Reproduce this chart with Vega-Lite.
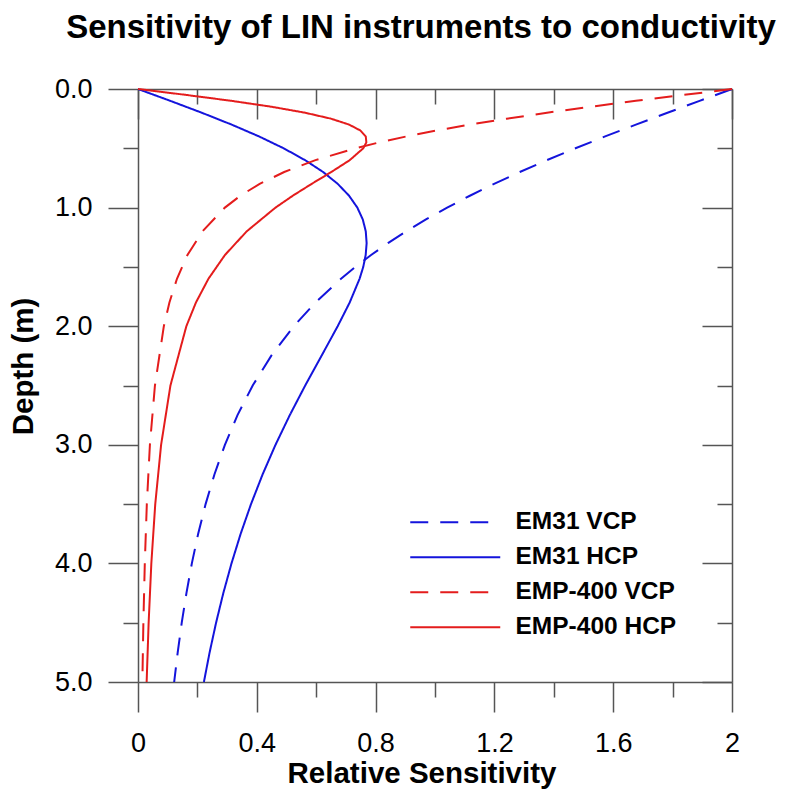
{
  "$schema": "https://vega.github.io/schema/vega-lite/v6.json",
  "width": 594,
  "height": 593,
  "autosize": "none",
  "padding": {"left": 138, "top": 89, "right": 56, "bottom": 110},
  "background": "white",
  "config": {
    "view": {"stroke": null},
    "font": "Liberation Sans",
    "axis": {
      "domainColor": "#555555", "domainWidth": 1.5,
      "tickColor": "#555555", "tickWidth": 1.5,
      "grid": false,
      "labelFont": "Liberation Sans", "labelFontSize": 27, "labelColor": "#000000",
      "labelFlush": false, "labelOverlap": false,
      "titleFont": "Liberation Sans", "titleFontSize": 29.5, "titleFontWeight": "bold", "titleColor": "#000000"
    }
  },
  "title": {
    "text": "Sensitivity of LIN instruments to conductivity",
    "font": "Liberation Sans", "fontSize": 33, "fontWeight": "bold", "color": "#000000",
    "anchor": "middle", "frame": "group", "dx": -14, "offset": 4, "baseline": "alphabetic"
  },
  "data": {
    "values": [
      {"series": "EM31 VCP", "depth": 0, "sensitivity": 2},
      {"series": "EM31 VCP", "depth": 0.1, "sensitivity": 1.8909},
      {"series": "EM31 VCP", "depth": 0.2, "sensitivity": 1.7827},
      {"series": "EM31 VCP", "depth": 0.3, "sensitivity": 1.6764},
      {"series": "EM31 VCP", "depth": 0.4, "sensitivity": 1.5729},
      {"series": "EM31 VCP", "depth": 0.5, "sensitivity": 1.4729},
      {"series": "EM31 VCP", "depth": 0.6, "sensitivity": 1.3769},
      {"series": "EM31 VCP", "depth": 0.7, "sensitivity": 1.2855},
      {"series": "EM31 VCP", "depth": 0.8, "sensitivity": 1.1989},
      {"series": "EM31 VCP", "depth": 0.9, "sensitivity": 1.1174},
      {"series": "EM31 VCP", "depth": 1.0, "sensitivity": 1.0409},
      {"series": "EM31 VCP", "depth": 1.1, "sensitivity": 0.9696},
      {"series": "EM31 VCP", "depth": 1.2, "sensitivity": 0.9033},
      {"series": "EM31 VCP", "depth": 1.3, "sensitivity": 0.8417},
      {"series": "EM31 VCP", "depth": 1.4, "sensitivity": 0.7848},
      {"series": "EM31 VCP", "depth": 1.5, "sensitivity": 0.7321},
      {"series": "EM31 VCP", "depth": 1.6, "sensitivity": 0.6836},
      {"series": "EM31 VCP", "depth": 1.8, "sensitivity": 0.5975},
      {"series": "EM31 VCP", "depth": 2.0, "sensitivity": 0.5245},
      {"series": "EM31 VCP", "depth": 2.25, "sensitivity": 0.4484},
      {"series": "EM31 VCP", "depth": 2.5, "sensitivity": 0.3862},
      {"series": "EM31 VCP", "depth": 2.75, "sensitivity": 0.335},
      {"series": "EM31 VCP", "depth": 3.0, "sensitivity": 0.2926},
      {"series": "EM31 VCP", "depth": 3.25, "sensitivity": 0.2573},
      {"series": "EM31 VCP", "depth": 3.5, "sensitivity": 0.2276},
      {"series": "EM31 VCP", "depth": 3.75, "sensitivity": 0.2026},
      {"series": "EM31 VCP", "depth": 4.0, "sensitivity": 0.1813},
      {"series": "EM31 VCP", "depth": 4.25, "sensitivity": 0.1631},
      {"series": "EM31 VCP", "depth": 4.5, "sensitivity": 0.1473},
      {"series": "EM31 VCP", "depth": 4.75, "sensitivity": 0.1337},
      {"series": "EM31 VCP", "depth": 5.0, "sensitivity": 0.1218},

      {"series": "EM31 HCP", "depth": 0, "sensitivity": 0},
      {"series": "EM31 HCP", "depth": 0.1, "sensitivity": 0.1088},
      {"series": "EM31 HCP", "depth": 0.2, "sensitivity": 0.2147},
      {"series": "EM31 HCP", "depth": 0.3, "sensitivity": 0.3151},
      {"series": "EM31 HCP", "depth": 0.4, "sensitivity": 0.4076},
      {"series": "EM31 HCP", "depth": 0.5, "sensitivity": 0.4905},
      {"series": "EM31 HCP", "depth": 0.6, "sensitivity": 0.5626},
      {"series": "EM31 HCP", "depth": 0.7, "sensitivity": 0.6233},
      {"series": "EM31 HCP", "depth": 0.8, "sensitivity": 0.6726},
      {"series": "EM31 HCP", "depth": 0.9, "sensitivity": 0.7107},
      {"series": "EM31 HCP", "depth": 1.0, "sensitivity": 0.7385},
      {"series": "EM31 HCP", "depth": 1.1, "sensitivity": 0.7569},
      {"series": "EM31 HCP", "depth": 1.2, "sensitivity": 0.7669},
      {"series": "EM31 HCP", "depth": 1.3, "sensitivity": 0.7698},
      {"series": "EM31 HCP", "depth": 1.4, "sensitivity": 0.7666},
      {"series": "EM31 HCP", "depth": 1.5, "sensitivity": 0.7584},
      {"series": "EM31 HCP", "depth": 1.6, "sensitivity": 0.7461},
      {"series": "EM31 HCP", "depth": 1.8, "sensitivity": 0.7128},
      {"series": "EM31 HCP", "depth": 2.0, "sensitivity": 0.6724},
      {"series": "EM31 HCP", "depth": 2.25, "sensitivity": 0.6178},
      {"series": "EM31 HCP", "depth": 2.5, "sensitivity": 0.563},
      {"series": "EM31 HCP", "depth": 2.75, "sensitivity": 0.511},
      {"series": "EM31 HCP", "depth": 3.0, "sensitivity": 0.463},
      {"series": "EM31 HCP", "depth": 3.25, "sensitivity": 0.4195},
      {"series": "EM31 HCP", "depth": 3.5, "sensitivity": 0.3805},
      {"series": "EM31 HCP", "depth": 3.75, "sensitivity": 0.3457},
      {"series": "EM31 HCP", "depth": 4.0, "sensitivity": 0.3148},
      {"series": "EM31 HCP", "depth": 4.25, "sensitivity": 0.2873},
      {"series": "EM31 HCP", "depth": 4.5, "sensitivity": 0.2629},
      {"series": "EM31 HCP", "depth": 4.75, "sensitivity": 0.2412},
      {"series": "EM31 HCP", "depth": 5.0, "sensitivity": 0.2219},

      {"series": "EMP-400 VCP", "depth": 0, "sensitivity": 2},
      {"series": "EMP-400 VCP", "depth": 0.025, "sensitivity": 1.9181},
      {"series": "EMP-400 VCP", "depth": 0.05, "sensitivity": 1.8366},
      {"series": "EMP-400 VCP", "depth": 0.1, "sensitivity": 1.6764},
      {"series": "EMP-400 VCP", "depth": 0.15, "sensitivity": 1.5224},
      {"series": "EMP-400 VCP", "depth": 0.2, "sensitivity": 1.3769},
      {"series": "EMP-400 VCP", "depth": 0.25, "sensitivity": 1.2416},
      {"series": "EMP-400 VCP", "depth": 0.3, "sensitivity": 1.1174},
      {"series": "EMP-400 VCP", "depth": 0.35, "sensitivity": 1.0047},
      {"series": "EMP-400 VCP", "depth": 0.4, "sensitivity": 0.9033},
      {"series": "EMP-400 VCP", "depth": 0.45, "sensitivity": 0.8127},
      {"series": "EMP-400 VCP", "depth": 0.5, "sensitivity": 0.7321},
      {"series": "EMP-400 VCP", "depth": 0.6, "sensitivity": 0.5975},
      {"series": "EMP-400 VCP", "depth": 0.7, "sensitivity": 0.4922},
      {"series": "EMP-400 VCP", "depth": 0.8, "sensitivity": 0.4096},
      {"series": "EMP-400 VCP", "depth": 0.9, "sensitivity": 0.3444},
      {"series": "EMP-400 VCP", "depth": 1.0, "sensitivity": 0.2926},
      {"series": "EMP-400 VCP", "depth": 1.2, "sensitivity": 0.2171},
      {"series": "EMP-400 VCP", "depth": 1.4, "sensitivity": 0.1665},
      {"series": "EMP-400 VCP", "depth": 1.6, "sensitivity": 0.1312},
      {"series": "EMP-400 VCP", "depth": 1.8, "sensitivity": 0.1058},
      {"series": "EMP-400 VCP", "depth": 2.0, "sensitivity": 0.087},
      {"series": "EMP-400 VCP", "depth": 2.5, "sensitivity": 0.057},
      {"series": "EMP-400 VCP", "depth": 3.0, "sensitivity": 0.0401},
      {"series": "EMP-400 VCP", "depth": 3.5, "sensitivity": 0.0297},
      {"series": "EMP-400 VCP", "depth": 4.0, "sensitivity": 0.0229},
      {"series": "EMP-400 VCP", "depth": 4.5, "sensitivity": 0.0181},
      {"series": "EMP-400 VCP", "depth": 5.0, "sensitivity": 0.0147},

      {"series": "EMP-400 HCP", "depth": 0, "sensitivity": 0},
      {"series": "EMP-400 HCP", "depth": 0.025, "sensitivity": 0.0818},
      {"series": "EMP-400 HCP", "depth": 0.05, "sensitivity": 0.1623},
      {"series": "EMP-400 HCP", "depth": 0.1, "sensitivity": 0.3151},
      {"series": "EMP-400 HCP", "depth": 0.15, "sensitivity": 0.4504},
      {"series": "EMP-400 HCP", "depth": 0.2, "sensitivity": 0.5626},
      {"series": "EMP-400 HCP", "depth": 0.25, "sensitivity": 0.6494},
      {"series": "EMP-400 HCP", "depth": 0.3, "sensitivity": 0.7107},
      {"series": "EMP-400 HCP", "depth": 0.35, "sensitivity": 0.7488},
      {"series": "EMP-400 HCP", "depth": 0.4, "sensitivity": 0.7669},
      {"series": "EMP-400 HCP", "depth": 0.45, "sensitivity": 0.7689},
      {"series": "EMP-400 HCP", "depth": 0.5, "sensitivity": 0.7584},
      {"series": "EMP-400 HCP", "depth": 0.6, "sensitivity": 0.7128},
      {"series": "EMP-400 HCP", "depth": 0.7, "sensitivity": 0.6508},
      {"series": "EMP-400 HCP", "depth": 0.8, "sensitivity": 0.5847},
      {"series": "EMP-400 HCP", "depth": 0.9, "sensitivity": 0.5211},
      {"series": "EMP-400 HCP", "depth": 1.0, "sensitivity": 0.463},
      {"series": "EMP-400 HCP", "depth": 1.2, "sensitivity": 0.3661},
      {"series": "EMP-400 HCP", "depth": 1.4, "sensitivity": 0.2926},
      {"series": "EMP-400 HCP", "depth": 1.6, "sensitivity": 0.2372},
      {"series": "EMP-400 HCP", "depth": 1.8, "sensitivity": 0.1951},
      {"series": "EMP-400 HCP", "depth": 2.0, "sensitivity": 0.1628},
      {"series": "EMP-400 HCP", "depth": 2.5, "sensitivity": 0.1092},
      {"series": "EMP-400 HCP", "depth": 3.0, "sensitivity": 0.0778},
      {"series": "EMP-400 HCP", "depth": 3.5, "sensitivity": 0.0581},
      {"series": "EMP-400 HCP", "depth": 4.0, "sensitivity": 0.0449},
      {"series": "EMP-400 HCP", "depth": 4.5, "sensitivity": 0.0358},
      {"series": "EMP-400 HCP", "depth": 5.0, "sensitivity": 0.0291}
    ]
  },
  "layer": [
    {
      "mark": {"type": "line", "strokeWidth": 2, "interpolate": "linear"},
      "encoding": {
        "x": {
          "field": "sensitivity", "type": "quantitative",
          "scale": {"domain": [0, 2], "nice": false, "zero": true},
          "axis": {
            "orient": "bottom",
            "values": [0, 0.2, 0.4, 0.6, 0.8, 1, 1.2, 1.4, 1.6, 1.8, 2],
            "tickSize": {"condition": {"test": "round(datum.value*10) % 4 === 0", "value": 30}, "value": 15},
            "labelExpr": "round(datum.value*10) % 4 === 0 ? format(datum.value, '~g') : ''",
            "labelPadding": 18,
            "title": "Relative Sensitivity",
            "titleX": 283.5, "titleY": 100, "titleAlign": "center", "titleBaseline": "alphabetic"
          }
        },
        "y": {
          "field": "depth", "type": "quantitative",
          "scale": {"domain": [0, 5], "reverse": true, "nice": false},
          "axis": {
            "orient": "left",
            "values": [0, 0.5, 1, 1.5, 2, 2.5, 3, 3.5, 4, 4.5, 5],
            "tickSize": {"condition": {"test": "datum.value % 1 === 0", "value": 30}, "value": 15},
            "labelExpr": "datum.value % 1 === 0 ? format(datum.value, '.1f') : ''",
            "labelPadding": 16,
            "title": "Depth (m)",
            "titleX": -100, "titleY": 277, "titleAngle": -90, "titleAlign": "center", "titleBaseline": "bottom"
          }
        },
        "color": {
          "field": "series", "type": "nominal",
          "scale": {"domain": ["EM31 VCP", "EM31 HCP", "EMP-400 VCP", "EMP-400 HCP"], "range": ["#1414dc", "#1414dc", "#e41c1c", "#e41c1c"]},
          "legend": {"orient": "none", "legendX": 305, "legendY": 421, "title": null, "padding": 0,
            "symbolType": "M-9,0H9", "symbolSize": 100, "symbolStrokeWidth": 2,
            "labelFont": "Liberation Sans", "labelFontSize": 24.5, "labelFontWeight": "bold", "labelColor": "#000000",
            "labelOffset": 48, "rowPadding": 10, "labelLimit": 400}
        },
        "strokeDash": {
          "field": "series", "type": "nominal",
          "scale": {"domain": ["EM31 VCP", "EM31 HCP", "EMP-400 VCP", "EMP-400 HCP"], "range": [[18, 12], [1, 0], [18, 12], [1, 0]]},
          "legend": {"orient": "none", "legendX": 305, "legendY": 421, "title": null, "padding": 0,
            "symbolType": "M-9,0H9", "symbolSize": 100, "symbolStrokeWidth": 2,
            "labelFont": "Liberation Sans", "labelFontSize": 24.5, "labelFontWeight": "bold", "labelColor": "#000000",
            "labelOffset": 48, "rowPadding": 10, "labelLimit": 400}
        },
        "order": {"field": "depth", "type": "quantitative"}
      }
    },
    {
      "mark": {"type": "point", "opacity": 0},
      "encoding": {
        "x": {
          "field": "sensitivity", "type": "quantitative",
          "axis": {
            "orient": "top",
            "values": [0, 0.2, 0.4, 0.6, 0.8, 1, 1.2, 1.4, 1.6, 1.8, 2],
            "tickSize": {"condition": {"test": "round(datum.value*10) % 4 === 0", "value": -30}, "value": -15},
            "labels": false, "title": null
          }
        },
        "y": {
          "field": "depth", "type": "quantitative",
          "axis": {
            "orient": "right",
            "values": [0, 0.5, 1, 1.5, 2, 2.5, 3, 3.5, 4, 4.5, 5],
            "tickSize": {"condition": {"test": "datum.value % 1 === 0", "value": -30}, "value": -15},
            "labels": false, "title": null
          }
        }
      }
    }
  ],
  "resolve": {"axis": {"x": "independent", "y": "independent"}}
}
